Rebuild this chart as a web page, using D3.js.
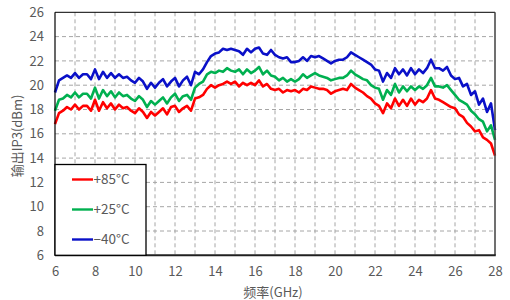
<!DOCTYPE html>
<html><head><meta charset="utf-8">
<script src="https://cdn.jsdelivr.net/npm/d3@7"></script>
<style>body{margin:0;background:#fff}svg{display:block}text{font-family:"Noto Sans CJK SC","Noto Sans",sans-serif;fill:#595959}</style>
</head><body>
<svg id="c" width="510" height="300"></svg>
<script>
const freqStart = 6, freqStep = 0.2;
const xTicks = [6,8,10,12,14,16,18,20,22,24,26,28];
const yTicks = [6,8,10,12,14,16,18,20,22,24,26];
const seriesNames = ["+85°C","+25°C","−40°C"];
const seriesColors = ["#ff0000","#00b050","#0a10c8"];
const red = [16.8,17.7,17.9,18.2,18.0,18.4,18.0,18.3,18.3,17.9,18.8,17.9,18.6,18.1,18.5,18.0,18.4,18.1,18.2,17.9,
17.7,18.1,17.8,17.3,17.8,17.5,17.8,18.1,17.6,18.2,18.3,17.8,18.1,18.3,17.9,18.9,19.0,19.2,19.7,20.0,
19.8,20.0,20.1,20.3,20.1,20.3,19.9,20.2,20.0,20.2,20.0,20.4,19.9,20.1,19.7,19.6,19.7,19.4,19.6,19.5,
19.6,19.4,19.7,19.6,19.9,19.8,19.7,19.7,19.6,19.3,19.5,19.6,19.7,19.6,20.1,19.8,19.6,19.4,19.1,18.9,
18.5,18.3,17.7,18.5,18.1,18.9,18.3,18.8,18.3,18.9,18.4,18.8,18.6,18.9,19.6,18.9,18.8,18.6,18.4,18.2,
18.1,17.6,17.4,16.9,16.6,16.2,16.3,15.7,15.5,15.2,14.2];
const green = [17.9,18.8,18.9,19.2,19.0,19.4,19.0,19.3,19.3,18.9,19.8,18.9,19.6,19.1,19.5,19.0,19.4,19.1,19.2,18.9,
18.7,19.1,18.8,18.2,18.7,18.4,18.7,19.0,18.5,19.0,19.3,18.7,19.1,19.2,18.8,19.8,20.1,20.3,20.9,21.1,
21.0,21.2,21.1,21.4,21.2,21.1,21.3,20.9,21.3,21.0,21.2,21.5,20.9,21.2,20.8,20.7,20.4,20.6,20.3,20.5,
20.3,20.5,20.9,20.6,20.8,21.0,20.8,20.7,20.6,20.4,20.5,20.6,20.6,20.8,21.2,20.9,20.7,20.5,20.4,20.0,
19.8,19.7,18.8,19.6,19.2,20.1,19.4,19.9,19.5,19.9,19.6,19.9,19.7,20.0,20.6,19.9,19.9,19.8,20.0,19.6,
19.2,18.8,18.6,18.4,17.9,17.6,17.2,17.0,16.2,16.7,15.5];
const blue = [19.4,20.4,20.6,20.8,20.6,21.0,20.6,20.9,20.9,20.5,21.3,20.5,21.1,20.6,21.0,20.6,20.9,20.6,20.7,20.4,
20.2,20.6,20.3,19.7,20.2,19.8,20.2,20.5,19.9,20.3,20.6,19.9,20.4,20.7,20.0,21.1,20.9,21.3,21.9,22.4,
22.6,22.7,23.0,22.9,23.0,22.9,22.8,22.5,23.0,22.7,23.0,23.1,22.6,22.5,22.9,22.5,22.3,22.2,22.3,21.9,
21.9,22.0,22.3,22.0,22.4,22.3,22.4,22.2,22.0,21.8,22.0,22.1,22.1,22.3,22.7,22.5,22.3,22.1,21.9,21.7,
21.3,21.2,20.3,21.0,20.6,21.4,20.9,21.3,20.8,21.4,20.9,21.3,21.0,21.4,22.1,21.4,21.4,21.2,21.5,20.8,
20.5,20.6,19.9,20.1,19.2,19.5,18.4,18.9,17.8,18.5,16.3];
const seriesData = [red, green, blue];

const svg = d3.select("#c");
const x = d3.scaleLinear().domain([6,28]).range([55,495]);
const y = d3.scaleLinear().domain([6,26]).range([255.3,12.3]);

// grid
const g = svg.append("g");
g.selectAll("line.v").data(d3.range(7,28)).join("line")
  .attr("x1",d=>x(d)).attr("x2",d=>x(d)).attr("y1",y(26)).attr("y2",y(6))
  .attr("stroke","#a6a6a6").attr("stroke-width",1).attr("stroke-dasharray","4,3");
g.selectAll("line.h").data(yTicks.slice(1,-1)).join("line")
  .attr("y1",d=>y(d)).attr("y2",d=>y(d)).attr("x1",x(6)).attr("x2",x(28))
  .attr("stroke","#a6a6a6").attr("stroke-width",1).attr("stroke-dasharray","4,3");

// axes labels via d3 axes
const xAxis = svg.append("g").attr("transform",`translate(0,${y(6)})`)
  .call(d3.axisBottom(x).tickValues(xTicks).tickSize(0).tickPadding(11).tickFormat(d3.format("d")));
xAxis.select(".domain").remove();
xAxis.selectAll("text").style("font-size","13px").attr("fill","#595959");
const yAxis = svg.append("g").attr("transform",`translate(${x(6)},0)`)
  .call(d3.axisLeft(y).tickValues(yTicks).tickSize(0).tickPadding(11).tickFormat(d3.format("d")));
yAxis.select(".domain").remove();
yAxis.selectAll("text").style("font-size","13px").attr("fill","#595959");

// lines
const line = d3.line().x((d,i)=>x(freqStart+i*freqStep)).y(d=>y(d));
svg.selectAll("path.s").data(seriesData).join("path")
  .attr("d",line).attr("fill","none")
  .attr("stroke",(d,i)=>seriesColors[i]).attr("stroke-width",2.6).attr("stroke-linejoin","round");

// frame
svg.append("line").attr("x1",x(6)).attr("x2",x(28)).attr("y1",y(26)).attr("y2",y(26)).attr("stroke","#000").attr("stroke-width",1);
svg.append("line").attr("x1",x(6)).attr("x2",x(6)).attr("y1",y(26)).attr("y2",y(6)).attr("stroke","#000").attr("stroke-width",1.2);
svg.append("line").attr("x1",x(28)).attr("x2",x(28)).attr("y1",y(26)).attr("y2",y(6)).attr("stroke","#404040").attr("stroke-width",1.5);
svg.append("line").attr("x1",x(6)).attr("x2",x(28)+0.75).attr("y1",y(6)).attr("y2",y(6)).attr("stroke","#202020").attr("stroke-width",2);

// legend
const lg = svg.append("g");
lg.append("rect").attr("x",x(6)).attr("y",164.5).attr("width",91).attr("height",y(6)-164.5)
  .attr("fill","#fff").attr("stroke","#000").attr("stroke-width",1.3);
seriesNames.forEach((n,i)=>{
  const yy = 179.5 + i*30;
  lg.append("line").attr("x1",72).attr("x2",93).attr("y1",yy).attr("y2",yy)
    .attr("stroke",seriesColors[i]).attr("stroke-width",2.4);
  lg.append("text").attr("x",93.5).attr("y",yy+4.5).style("font-size","13.5px").text(n);
});

// titles
svg.append("text").attr("x",273).attr("y",297).attr("text-anchor","middle").style("font-size","13px").text("频率(GHz)");
svg.append("text").attr("transform","translate(22,136) rotate(-90)").attr("text-anchor","middle").style("font-size","13px").text("输出IP3(dBm)");
</script>
</body></html>
